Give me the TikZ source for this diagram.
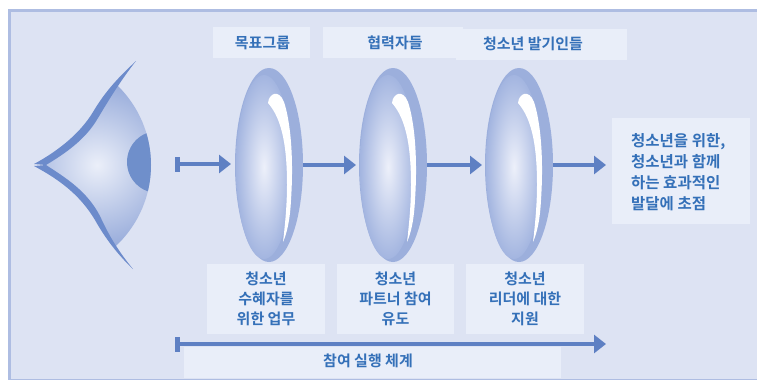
\documentclass[tikz,border=0pt]{standalone}
\usepackage{fontspec}
\newfontfamily\kr{Noto Sans CJK KR Bold}
\usetikzlibrary{arrows.meta,shapes.geometric}

\definecolor{pagec}{HTML}{FFFFFF}
\definecolor{framec}{HTML}{AEBDE2}
\definecolor{bgc}{HTML}{DDE3F3}
\definecolor{boxc}{HTML}{E9EEF9}
\definecolor{textc}{HTML}{3470B8}
\definecolor{arrowc}{HTML}{5E80C3}
\definecolor{rimc}{HTML}{9CAFDC}
\definecolor{lenshi}{HTML}{EDF0FA}
\definecolor{lenslo}{HTML}{A3B5E0}
\definecolor{eyehi}{HTML}{EBEFF9}
\definecolor{eyelo}{HTML}{93A8D9}
\definecolor{lidc}{HTML}{6C8BCB}
\definecolor{irisc}{HTML}{6F8FCB}

\begin{document}
\begin{tikzpicture}[x=1pt,y=-1pt,
  lbox/.style={fill=boxc, inner sep=0pt, outer sep=0pt},
  lbl/.style={font=\kr\fontsize{15}{20}\selectfont, text=textc, inner sep=0pt, align=center},
  flow/.style={draw=arrowc, line width=4.5pt, -{Triangle[length=12pt,width=18pt]}},
  barstart/.style={{Rectangle[length=5pt,width=15pt]}-{Triangle[length=12pt,width=18pt]}},
  lensnode/.style={ellipse, minimum width=68pt, minimum height=194pt, inner sep=0pt, outer sep=0pt}]

\useasboundingbox (0,0) rectangle (757,380);
\fill[pagec] (0,0) rectangle (757,380);
\fill[framec] (8,9) rectangle (757,380);
\fill[bgc] (11,12) rectangle (757,379);

% label boxes
\node[lbox, minimum width=97pt,  minimum height=31pt] (tgtbox) at (261.5,42.5) {};
\node[lbox, minimum width=140pt, minimum height=31pt] (cobox)  at (393,42.5) {};
\node[lbox, minimum width=171pt, minimum height=31pt] (yabox)  at (541.5,44.5) {};
\node[lbox, minimum width=138pt, minimum height=106pt] (goal)  at (681,171) {};
\node[lbox, minimum width=118pt, minimum height=70pt] (wbox)   at (266,299) {};
\node[lbox, minimum width=117pt, minimum height=70pt] (pbox)   at (395.5,299) {};
\node[lbox, minimum width=118pt, minimum height=70pt] (lbox3)  at (525,299) {};
\node[lbox, minimum width=377pt, minimum height=31pt] (sysbox) at (372.5,362.5) {};

% eye: shaded ball with iris, clipped between the lids
\begin{scope}
  \clip (43,165) .. controls (64,152) and (84,138) .. (96,118)
        .. controls (108,98) and (120,80) .. (135,62) -- (220,62) -- (220,270) -- (132,269)
        .. controls (118,252) and (108,236) .. (99,218)
        .. controls (86,193) and (64,178) .. (43,165) -- cycle;
  \clip (40,165) circle (111pt);
  \shade[inner color=eyehi, outer color=eyelo] (97,165) circle (88pt);
  \fill[irisc] (158,162) circle (31pt);
\end{scope}
% upper lid
\fill[lidc] (136,61) .. controls (120,76) and (106,90) .. (93,112)
  .. controls (81,132) and (60,150) .. (34,164)
  -- (46,165) .. controls (66,153) and (86,139) .. (98,118)
  .. controls (110,98) and (121,80) .. (136,61) -- cycle;
% lower lid
\fill[lidc] (34,166) .. controls (60,180) and (80,195) .. (95,220)
  .. controls (105,238) and (118,255) .. (133,269)
  -- (133,269) .. controls (119,252) and (109,236) .. (100,216)
  .. controls (87,191) and (66,178) .. (46,165) -- cycle;

% lenses
\foreach \cx/\nm in {269/l1, 393/l2, 519/l3} {
  \begin{scope}[shift={(\cx,165)}]
    \fill[rimc] (0,0) ellipse [x radius=34pt, y radius=97pt];
    \shade[inner color=lenshi, outer color=lenslo] (-5,2) ellipse [x radius=28pt, y radius=92pt];
    \fill[white] (-1,-62) .. controls (0,-72) and (10,-76) .. (15,-63)
      .. controls (21,-45) and (25,-10) .. (22,35)
      .. controls (21,55) and (18,68) .. (14,77)
      .. controls (16,60) and (18,40) .. (18,20)
      .. controls (18,-15) and (14,-45) .. (-1,-62) -- cycle;
  \end{scope}
  \node[lensnode] (\nm) at (\cx,165) {};
}

% connectors
\coordinate (eyeout) at (175,164);
\draw[flow, barstart, shorten >=4pt] (eyeout) -- (eyeout -| l1.west);
\draw[flow, shorten >=3pt] (l1.east) -- (l2.west);
\draw[flow, shorten >=3pt] (l2.east) -- (l3.west);
\draw[flow, shorten >=6pt] (l3.east) -- (l3.east -| goal.west);
\coordinate (sysstart) at (175,344);
\coordinate (sysend) at (606,344);
\draw[flow, barstart] (sysstart) -- (sysend);

% texts
\node[lbl] (tgt) at (262.5,43) {목표그룹};
\node[lbl] (co) at (395,43) {협력자들};
\node[lbl] (ya) at (533,44) {청소년 발기인들};
\node[lbl, align=left, anchor=west, font=\kr\fontsize{15.5}{21}\selectfont] (goaltext) at (631,172) {청소년을 위한,\\청소년과 함께\\하는 효과적인\\발달에 초점};
\node[lbl] (wt) at (266,299) {청소년\\수혜자를\\위한 업무};
\node[lbl] (pt) at (395.5,299) {청소년\\파트너 참여\\유도};
\node[lbl] (lt) at (525,299) {청소년\\리더에 대한\\지원};
\node[lbl] (syst) at (368,361) {참여 실행 체계};
\end{tikzpicture}
\end{document}
